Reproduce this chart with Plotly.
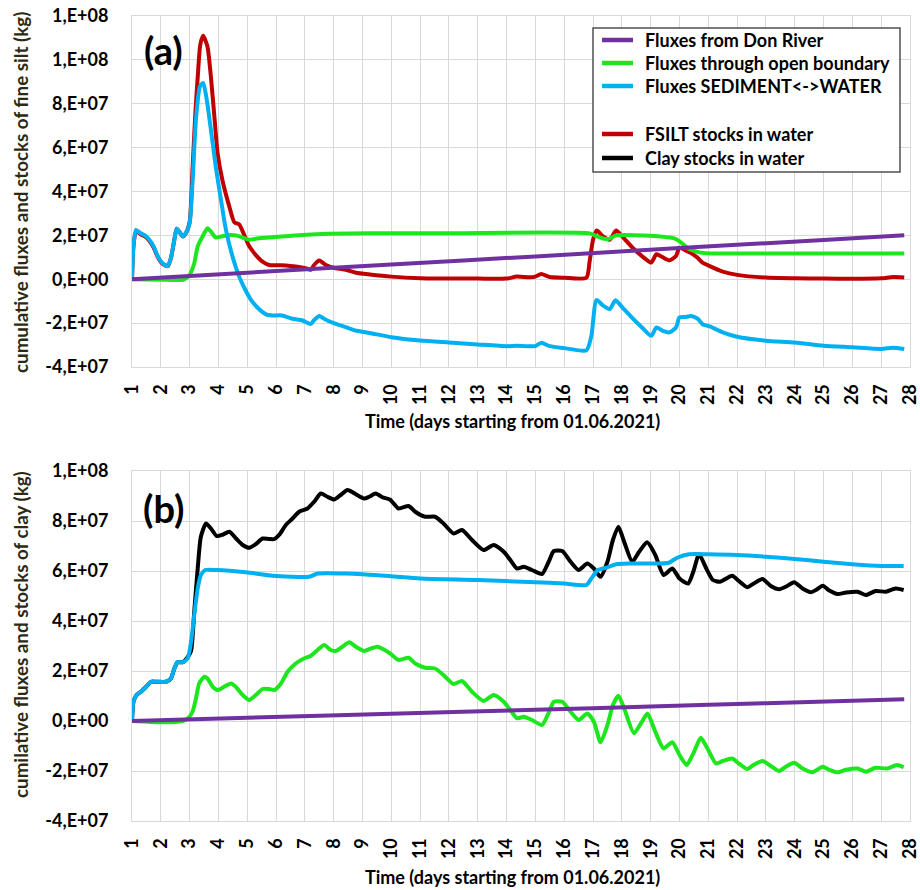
import plotly.graph_objects as go

# ---------------- Panel (a): fine silt ----------------
a_river_t = [1, 5, 10, 15, 20, 25, 27.8]
a_river_v = [0, 3.0e6, 6.7e6, 1.04e7, 1.42e7, 1.79e7, 2.0e7]

a_open_t = [1.0, 2.0, 2.8, 3.0, 3.16, 3.28, 3.45, 3.62, 3.74, 3.91, 4.09, 4.38, 4.61, 4.84, 5.07, 5.3,
            5.76, 6.2, 6.92, 7.84, 9.23, 12, 16.88, 17.12, 17.35, 17.55, 17.8, 19.0, 19.53, 19.82,
            20.06, 20.29, 20.58, 20.92, 21.5, 27.8]
a_open_v = [0, -2e5, -2e5, 2e6, 7.3e6, 1.5e7, 1.95e7, 2.33e7, 2.17e7, 1.9e7, 1.95e7, 2.02e7, 2.0e7,
            1.9e7, 1.8e7, 1.85e7, 1.9e7, 1.95e7, 2.02e7, 2.07e7, 2.1e7, 2.1e7, 2.09e7, 1.97e7,
            1.86e7, 1.84e7, 2.0e7, 1.98e7, 1.92e7, 1.86e7, 1.67e7, 1.41e7, 1.26e7, 1.18e7, 1.17e7, 1.17e7]

a_sed_t = [1.0, 1.05, 1.14, 1.3, 1.45, 1.6, 1.75, 1.9, 2.06, 2.24, 2.35, 2.47, 2.55, 2.65, 2.76, 2.87,
           3.0, 3.1, 3.22, 3.36, 3.47, 3.58, 3.74, 3.91, 4.09, 4.26, 4.49, 4.72, 4.9, 5.13, 5.36,
           5.65, 5.88, 6.2, 6.57, 6.92, 7.2, 7.33, 7.5, 7.73, 8.1, 8.45, 8.8, 9.25, 10, 11, 12, 13,
           14, 14.35, 15, 15.2, 15.5, 16, 16.77, 16.94, 17.12, 17.35, 17.58, 17.78, 18.03, 18.35,
           18.7, 19.02, 19.2, 19.42, 19.65, 19.88, 20.0, 20.23, 20.4, 20.63, 20.8, 21.05, 21.5, 22,
           23, 24, 25, 26, 27, 27.4, 27.8]
a_sed_v = [0, 1.5e7, 2.25e7, 2.1e7, 2.0e7, 1.8e7, 1.5e7, 1.03e7, 7.3e6, 6.0e6, 9.6e6, 1.8e7, 2.3e7,
           2.15e7, 1.95e7, 2.1e7, 2.55e7, 4.4e7, 7.3e7, 8.8e7, 8.95e7, 8.3e7, 6.8e7, 5.1e7, 3.6e7,
           2.25e7, 1.03e7, 1.2e6, -4.0e6, -9.4e6, -1.3e7, -1.6e7, -1.65e7, -1.65e7, -1.8e7, -1.88e7,
           -2.04e7, -1.85e7, -1.67e7, -1.85e7, -2.05e7, -2.2e7, -2.35e7, -2.45e7, -2.64e7, -2.79e7,
           -2.88e7, -2.97e7, -3.05e7, -3.03e7, -3.05e7, -2.9e7, -3.05e7, -3.14e7, -3.24e7, -2.6e7,
           -9.5e6, -1.2e7, -1.36e7, -9.6e6, -1.3e7, -1.75e7, -2.2e7, -2.58e7, -2.2e7, -2.35e7,
           -2.42e7, -2.2e7, -1.74e7, -1.72e7, -1.67e7, -1.8e7, -2.05e7, -2.15e7, -2.42e7, -2.62e7,
           -2.8e7, -2.88e7, -3.03e7, -3.1e7, -3.18e7, -3.12e7, -3.18e7]

a_stock_t = [1.0, 1.05, 1.14, 1.3, 1.45, 1.6, 1.75, 1.9, 2.06, 2.24, 2.35, 2.47, 2.55, 2.65, 2.76, 2.87,
             3.0, 3.1, 3.2, 3.28, 3.37, 3.47, 3.62, 3.74, 3.86, 3.97, 4.14, 4.38, 4.55, 4.72, 4.9,
             5.07, 5.3, 5.53, 5.76, 6.34, 6.68, 7.03, 7.2, 7.32, 7.5, 7.73, 8.07, 8.42, 8.77, 9.25,
             10, 11, 12, 13, 14, 14.35, 14.8, 15, 15.2, 15.5, 16, 16.77, 16.88, 17.0, 17.13, 17.35,
             17.58, 17.8, 18.05, 18.4, 18.75, 19.02, 19.2, 19.42, 19.65, 19.88, 20.0, 20.23, 20.4,
             20.63, 20.8, 21.05, 21.5, 22, 23, 24, 25, 26, 27, 27.4, 27.8]
a_stock_v = [0, 1.5e7, 2.2e7, 2.05e7, 1.95e7, 1.75e7, 1.45e7, 1.0e7, 7.0e6, 6.0e6, 9.6e6, 1.8e7,
             2.3e7, 2.15e7, 1.95e7, 2.1e7, 2.6e7, 5.0e7, 7.6e7, 9.2e7, 1.07e8, 1.11e8, 1.06e8,
             9.2e7, 7.4e7, 5.75e7, 4.5e7, 3.3e7, 2.6e7, 2.5e7, 2.0e7, 1.5e7, 1.1e7, 8.0e6, 6.5e6,
             6.3e6, 5.8e6, 5.0e6, 4.3e6, 6.5e6, 8.5e6, 6.5e6, 5.0e6, 4.3e6, 3.0e6, 2.2e6, 1.2e6,
             4.5e5, 3e5, 3e5, 3e5, 1.2e6, 9e5, 1.2e6, 2.4e6, 1.0e6, 7e5, 7e5, 8e6, 1.8e7, 2.22e7,
             1.95e7, 1.8e7, 2.22e7, 1.9e7, 1.4e7, 1.0e7, 7.6e6, 1.14e7, 1.0e7, 8.6e6, 1.06e7,
             1.44e7, 1.3e7, 1.2e7, 9.8e6, 7.6e6, 6.0e6, 3.5e6, 2.0e6, 7.6e5, 4.5e5, 3e5, 2e5,
             4.5e5, 1.0e6, 8e5]

# ---------------- Panel (b): clay ----------------
b_river_t = [1, 5, 10, 15, 19, 23, 27.8]
b_river_v = [0, 1.3e6, 2.9e6, 4.5e6, 5.8e6, 7.1e6, 8.7e6]

b_open_t = [1.0, 2.0, 2.76, 2.93, 3.1, 3.22, 3.33, 3.51, 3.62, 3.8, 3.97, 4.2, 4.43, 4.6, 4.84, 5.07,
            5.3, 5.53, 5.76, 5.94, 6.17, 6.4, 6.68, 6.97, 7.2, 7.44, 7.67, 7.9, 8.08, 8.3, 8.54,
            8.77, 9.06, 9.29, 9.52, 9.75, 9.96, 10.25, 10.6, 10.83, 11.17, 11.52, 11.81, 12.16,
            12.45, 12.8, 13.2, 13.55, 13.9, 14.13, 14.36, 14.6, 14.88, 15.23, 15.45, 15.64, 15.93,
            16.22, 16.5, 16.8, 17.03, 17.26, 17.5, 17.69, 17.88, 18.08, 18.42, 18.66, 18.89, 19.16,
            19.45, 19.75, 20.0, 20.25, 20.48, 20.74, 20.97, 21.27, 21.5, 21.83, 22.06, 22.35, 22.58,
            22.88, 23.17, 23.46, 23.7, 23.98, 24.27, 24.62, 24.97, 25.2, 25.49, 25.78, 26.18, 26.47,
            26.81, 27.2, 27.55, 27.78]
b_open_v = [0, -5e5, 0, 1e6, 3.7e6, 9e6, 1.5e7, 1.77e7, 1.7e7, 1.37e7, 1.24e7, 1.37e7, 1.5e7, 1.37e7,
            1.04e7, 8.4e6, 1.04e7, 1.28e7, 1.28e7, 1.24e7, 1.5e7, 1.97e7, 2.3e7, 2.5e7, 2.6e7,
            2.84e7, 3.04e7, 2.84e7, 2.8e7, 2.97e7, 3.15e7, 2.97e7, 2.8e7, 2.9e7, 2.97e7, 2.85e7,
            2.7e7, 2.44e7, 2.53e7, 2.3e7, 2.13e7, 2.1e7, 1.84e7, 1.48e7, 1.6e7, 1.17e7, 8e6, 1.04e7,
            7.7e6, 4.4e6, 1.1e6, 1.7e6, 4e5, -1.6e6, 3e6, 7.7e6, 7.7e6, 3.7e6, 4e5, 3e6, -3e5,
            -8.5e6, -1.6e6, 6.4e6, 1.01e7, 5e6, -4.9e6, -1e6, 3e6, -4.3e6, -1.1e7, -8.5e6, -1.36e7,
            -1.76e7, -1.3e7, -6.7e6, -1.1e7, -1.7e7, -1.6e7, -1.5e7, -1.7e7, -1.92e7, -1.75e7,
            -1.6e7, -1.8e7, -2.0e7, -1.82e7, -1.67e7, -1.9e7, -2.05e7, -1.83e7, -1.95e7, -2.05e7,
            -1.95e7, -1.9e7, -2.03e7, -1.87e7, -1.9e7, -1.76e7, -1.85e7]

b_sed_t = [1.0, 1.05, 1.16, 1.31, 1.49, 1.66, 1.83, 2.18, 2.35, 2.47, 2.58, 2.76, 2.93, 3.05, 3.16,
           3.28, 3.39, 3.54, 3.91, 4.95, 5.88, 7.15, 7.44, 8.42, 9.92, 11, 13, 15, 16, 16.77, 16.94,
           17.17, 17.46, 17.8, 18.27, 19.3, 19.63, 19.92, 20.33, 21, 22, 23, 24, 25, 26, 27, 27.78]
b_sed_v = [0, 7.7e6, 1.04e7, 1.17e7, 1.37e7, 1.57e7, 1.57e7, 1.57e7, 1.7e7, 2.1e7, 2.35e7, 2.35e7,
           2.5e7, 3.17e7, 4.24e7, 5.3e7, 5.84e7, 6.04e7, 6.04e7, 5.95e7, 5.81e7, 5.77e7, 5.9e7,
           5.9e7, 5.8e7, 5.7e7, 5.64e7, 5.55e7, 5.5e7, 5.44e7, 5.7e7, 6.04e7, 6.13e7, 6.27e7,
           6.3e7, 6.3e7, 6.33e7, 6.53e7, 6.67e7, 6.67e7, 6.64e7, 6.57e7, 6.48e7, 6.37e7, 6.27e7,
           6.2e7, 6.2e7]

b_stock_t = [1.0, 1.05, 1.16, 1.31, 1.49, 1.66, 1.83, 2.18, 2.35, 2.47, 2.58, 2.76, 2.93, 3.05, 3.16,
             3.28, 3.39, 3.57, 3.74, 3.94, 4.14, 4.38, 4.61, 4.84, 5.07, 5.3, 5.53, 5.76, 5.94, 6.11,
             6.34, 6.57, 6.8, 7.09, 7.32, 7.55, 7.78, 8.02, 8.25, 8.48, 8.77, 9.06, 9.23, 9.46, 9.69,
             9.96, 10.25, 10.6, 10.83, 11.17, 11.52, 11.81, 12.16, 12.45, 12.8, 13.2, 13.55, 13.9,
             14.13, 14.36, 14.6, 14.88, 15.23, 15.46, 15.64, 15.93, 16.22, 16.5, 16.8, 17.03, 17.26,
             17.5, 17.69, 17.88, 18.08, 18.36, 18.6, 18.88, 19.16, 19.45, 19.75, 20.0, 20.3, 20.48,
             20.68, 20.93, 21.16, 21.4, 21.83, 22.06, 22.35, 22.58, 22.88, 23.17, 23.46, 23.7, 23.98,
             24.27, 24.56, 24.75, 24.97, 25.2, 25.49, 25.78, 26.18, 26.47, 26.81, 27.16, 27.5, 27.78]
b_stock_v = [0, 7.7e6, 1.04e7, 1.17e7, 1.37e7, 1.57e7, 1.57e7, 1.57e7, 1.7e7, 2.1e7, 2.35e7, 2.35e7,
             2.55e7, 2.8e7, 4.37e7, 6.1e7, 7.37e7, 7.9e7, 7.7e7, 7.4e7, 7.45e7, 7.57e7, 7.3e7,
             7.04e7, 6.93e7, 7.08e7, 7.3e7, 7.28e7, 7.28e7, 7.45e7, 7.84e7, 8.1e7, 8.37e7, 8.5e7,
             8.77e7, 9.1e7, 8.97e7, 8.86e7, 9.05e7, 9.24e7, 9.07e7, 8.9e7, 8.97e7, 9.1e7, 8.95e7,
             8.85e7, 8.5e7, 8.6e7, 8.37e7, 8.17e7, 8.17e7, 7.9e7, 7.5e7, 7.64e7, 7.24e7, 6.84e7,
             7.04e7, 6.77e7, 6.44e7, 6.1e7, 6.17e7, 6.04e7, 5.88e7, 6.37e7, 6.8e7, 6.8e7, 6.37e7,
             6.04e7, 6.3e7, 6.1e7, 5.77e7, 6.37e7, 7.24e7, 7.77e7, 7.17e7, 6.37e7, 6.77e7, 7.15e7,
             6.64e7, 5.84e7, 6.1e7, 5.7e7, 5.5e7, 5.97e7, 6.67e7, 6.1e7, 5.64e7, 5.57e7, 5.81e7,
             5.6e7, 5.35e7, 5.5e7, 5.68e7, 5.4e7, 5.27e7, 5.38e7, 5.55e7, 5.3e7, 5.15e7, 5.25e7,
             5.41e7, 5.22e7, 5.08e7, 5.14e7, 5.17e7, 5.04e7, 5.2e7, 5.17e7, 5.3e7, 5.24e7]

# ---------------- Axis ticks / legend labels ----------------
x_ticks = list(range(1, 29))
a_yticks = [-4e7, -2e7, 0, 2e7, 4e7, 6e7, 8e7, 1e8, 1.2e8]
a_ytext = ["-4,E+07", "-2,E+07", "0,E+00", "2,E+07", "4,E+07", "6,E+07", "8,E+07", "1,E+08", "1,E+08"]
b_yticks = [-4e7, -2e7, 0, 2e7, 4e7, 6e7, 8e7, 1e8]
b_ytext = ["-4,E+07", "-2,E+07", "0,E+00", "2,E+07", "4,E+07", "6,E+07", "8,E+07", "1,E+08"]

names = ["Fluxes from Don River", "Fluxes through open boundary", "Fluxes SEDIMENT<->WATER",
         "FSILT stocks in water", "Clay stocks in water"]
C_PURPLE, C_GREEN, C_BLUE, C_RED, C_BLACK = "#7030A0", "#1EE61E", "#00B0F0", "#C00000", "#000000"
legend_colors = [C_PURPLE, C_GREEN, C_BLUE, C_RED, C_BLACK]

FONT = "Lato"
fig = go.Figure()

def line(t, v, color, name, xa, ya):
    fig.add_trace(go.Scatter(x=t, y=v, mode="lines", name=name, xaxis=xa, yaxis=ya,
                             line=dict(color=color, width=4, shape="spline", smoothing=0.6),
                             showlegend=False, hoverinfo="skip"))

# panel (a)
line(a_stock_t, a_stock_v, C_RED, names[3], "x", "y")
line(a_open_t, a_open_v, C_GREEN, names[1], "x", "y")
line(a_sed_t, a_sed_v, C_BLUE, names[2], "x", "y")
line(a_river_t, a_river_v, C_PURPLE, names[0], "x", "y")
# panel (b)
line(b_stock_t, b_stock_v, C_BLACK, names[4], "x2", "y2")
line(b_open_t, b_open_v, C_GREEN, names[1], "x2", "y2")
line(b_sed_t, b_sed_v, C_BLUE, names[2], "x2", "y2")
line(b_river_t, b_river_v, C_PURPLE, names[0], "x2", "y2")

GRID = "#d9d9d9"
xcommon = dict(range=[1, 28], tickvals=x_ticks, ticktext=[str(v) for v in x_ticks], tickangle=-90,
               showgrid=True, gridcolor=GRID, gridwidth=1, zeroline=False, automargin=False,
               showline=True, linecolor=GRID, linewidth=1, mirror=True, ticks="",
               ticklabelstandoff=9,
               tickfont=dict(family=FONT, size=18, color="black", weight="bold"))
ycommon = dict(showgrid=True, gridcolor=GRID, gridwidth=1, zeroline=False, automargin=False,
               showline=True, linecolor=GRID, linewidth=1, mirror=True, ticks="",
               ticklabelstandoff=19,
               tickfont=dict(family=FONT, size=18, color="black", weight="bold"))

# pixel -> paper helpers (plot area: x 132..910, y 16..821)
PL, PW, PB, PH = 132.0, 778.0, 821.0, 805.0
def px(x): return (x - PL) / PW
def py(y): return (PB - y) / PH

fig.update_layout(
    width=920, height=890,
    margin=dict(l=132, r=10, t=16, b=69, autoexpand=False),
    paper_bgcolor="white", plot_bgcolor="white",
    xaxis=dict(domain=[0, 1], anchor="y", **xcommon),
    yaxis=dict(domain=[py(367), 1], anchor="x", range=[-4e7, 1.2e8], tickvals=a_yticks, ticktext=a_ytext, **ycommon),
    xaxis2=dict(domain=[0, 1], anchor="y2", **xcommon),
    yaxis2=dict(domain=[0, py(471)], anchor="x2", range=[-4e7, 1e8], tickvals=b_yticks, ticktext=b_ytext, **ycommon),
    showlegend=False,
)

# legend box drawn as shapes + text
fig.add_shape(type="rect", xref="paper", yref="paper", x0=px(593), x1=px(900), y0=py(172), y1=py(28),
              fillcolor="white", line=dict(color="#505050", width=1.5), layer="above")
legend_rows = [40, 63, 86, 134, 158]
for name, col, ry in zip(names, legend_colors, legend_rows):
    fig.add_shape(type="line", xref="paper", yref="paper", x0=px(602), x1=px(633), y0=py(ry), y1=py(ry),
                  line=dict(color=col, width=4.5), layer="above")
    fig.add_annotation(xref="paper", yref="paper", x=px(643), y=py(ry), xanchor="left", yanchor="middle",
                       showarrow=False, text=name, font=dict(family=FONT, size=18, color="black", weight="bold"))

TITLE_C = "#2e2a12"
ann = [
    dict(text="(a)", x=px(163), y=py(50), font=dict(family=FONT, size=38, color="black", weight="bold")),
    dict(text="(b)", x=px(163), y=py(508), font=dict(family=FONT, size=38, color="black", weight="bold")),
    dict(text="cumulative fluxes and stocks of fine silt (kg)", x=px(20), y=py(193),
         textangle=-90, font=dict(family=FONT, size=18.8, color=TITLE_C, weight="bold")),
    dict(text="cumilative fluxes and stocks of clay (kg)", x=px(20), y=py(635),
         textangle=-90, font=dict(family=FONT, size=18.8, color=TITLE_C, weight="bold")),
    dict(text="Time (days starting from 01.06.2021)", x=px(512), y=py(421),
         font=dict(family=FONT, size=18, color="black", weight="bold")),
    dict(text="Time (days starting from 01.06.2021)", x=px(512), y=py(877),
         font=dict(family=FONT, size=18, color="black", weight="bold")),
]
for a in ann:
    fig.add_annotation(xref="paper", yref="paper", showarrow=False, xanchor="center", yanchor="middle", **a)

fig.write_html("out.html", config={"displayModeBar": False},
               post_script="document.body.style.margin='0';document.body.style.overflow='hidden';")
